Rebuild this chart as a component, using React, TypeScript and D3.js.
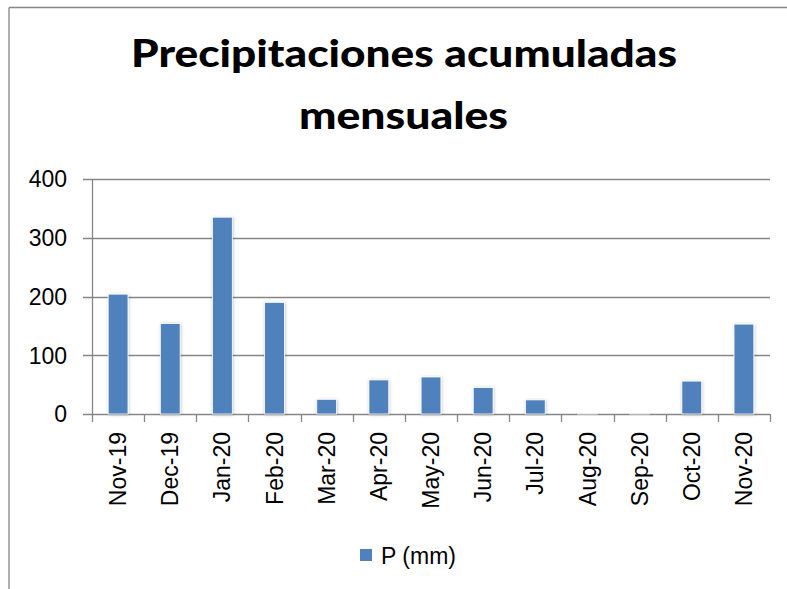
import * as d3 from 'd3'

const months = ['Nov-19', 'Dec-19', 'Jan-20', 'Feb-20', 'Mar-20', 'Apr-20', 'May-20', 'Jun-20', 'Jul-20', 'Aug-20', 'Sep-20', 'Oct-20', 'Nov-20']
const precip = [204, 154, 335, 190, 25, 58, 63, 45, 24, 0.5, 0.3, 56, 153]
const yTicks = [0, 100, 200, 300, 400]
const titleLines = ['Precipitaciones acumuladas', 'mensuales']
const seriesName = 'P (mm)'

const W = 787
const H = 589
const BLUE = '#4f81bd'
const GRID = '#868686'
const FONT = '"Liberation Sans", Arial, sans-serif'
const TITLE_FONT = 'Lato, "Open Sans", sans-serif'

export default function App() {
  const margin = { left: 92, right: 17, top: 179, bottom: 175 }
  const x = d3
    .scaleBand<string>()
    .domain(months)
    .range([margin.left, W - margin.right])
    .paddingInner(0.62)
    .paddingOuter(0.31)
  const y = d3.scaleLinear().domain([0, 400]).range([H - margin.bottom, margin.top])
  const step = x.step()
  const x0 = margin.left
  const x1 = W - margin.right
  const boundaries = d3.range(months.length + 1).map(i => x0 + i * step)

  return (
    <svg width={W} height={H} style={{ position: 'absolute', left: 0, top: 0, background: '#fff' }}>
      <defs>
        <filter id="barShadow" x="-30%" y="-10%" width="160%" height="120%">
          <feDropShadow dx="0.5" dy="0.5" stdDeviation="1.4" floodColor="#000" floodOpacity="0.25" />
        </filter>
      </defs>
      <rect x={0} y={0} width={W} height={H} fill="#fff" />
      {/* chart frame (right and bottom are cut off in the original) */}
      <line x1={9} x2={W} y1={7.5} y2={7.5} stroke={GRID} strokeWidth={1.3} />
      <line x1={9} x2={9} y1={7.5} y2={H} stroke={GRID} strokeWidth={1.3} />

      <text x={404} y={67} textAnchor="middle" fontFamily={TITLE_FONT} fontWeight="900" fontSize={37}
        textLength={546} lengthAdjust="spacingAndGlyphs">{titleLines[0]}</text>
      <text x={403.5} y={129} textAnchor="middle" fontFamily={TITLE_FONT} fontWeight="900" fontSize={37}
        textLength={209} lengthAdjust="spacingAndGlyphs">{titleLines[1]}</text>

      {yTicks.map(t => (
        <g key={t}>
          <line x1={x0 - 9} x2={x1} y1={Math.round(y(t)) + 0.5} y2={Math.round(y(t)) + 0.5} stroke={GRID} strokeWidth={1.3} />
          <text x={67} y={y(t)} dy="0.36em" textAnchor="end" fontFamily={FONT} fontSize={23} fill="#000">{t}</text>
        </g>
      ))}
      <line x1={x0 + 0.5} x2={x0 + 0.5} y1={y(400)} y2={y(0)} stroke={GRID} strokeWidth={1.3} />
      {boundaries.map((b, i) => (
        <line key={i} x1={Math.round(b) + 0.5} x2={Math.round(b) + 0.5} y1={y(0)} y2={y(0) + 8} stroke={GRID} strokeWidth={1.3} />
      ))}

      {months.map((m, i) => (
        <rect key={m} x={x(m)} y={y(precip[i])} width={x.bandwidth()} height={y(0) - y(precip[i])}
          fill={BLUE} stroke="#fff" strokeWidth={0.8} filter="url(#barShadow)" />
      ))}

      {months.map(m => {
        const cx = (x(m) as number) + x.bandwidth() / 2
        return (
          <text key={m} transform={`translate(${cx},${y(0) + 18}) rotate(-90)`} dy="0.35em" textAnchor="end"
            fontFamily={FONT} fontSize={23} fill="#000">{m}</text>
        )
      })}

      <rect x={360} y={549} width={12} height={12} fill={BLUE} />
      <text x={381} y={564} fontFamily={FONT} fontSize={23} fill="#000">{seriesName}</text>
    </svg>
  )
}
